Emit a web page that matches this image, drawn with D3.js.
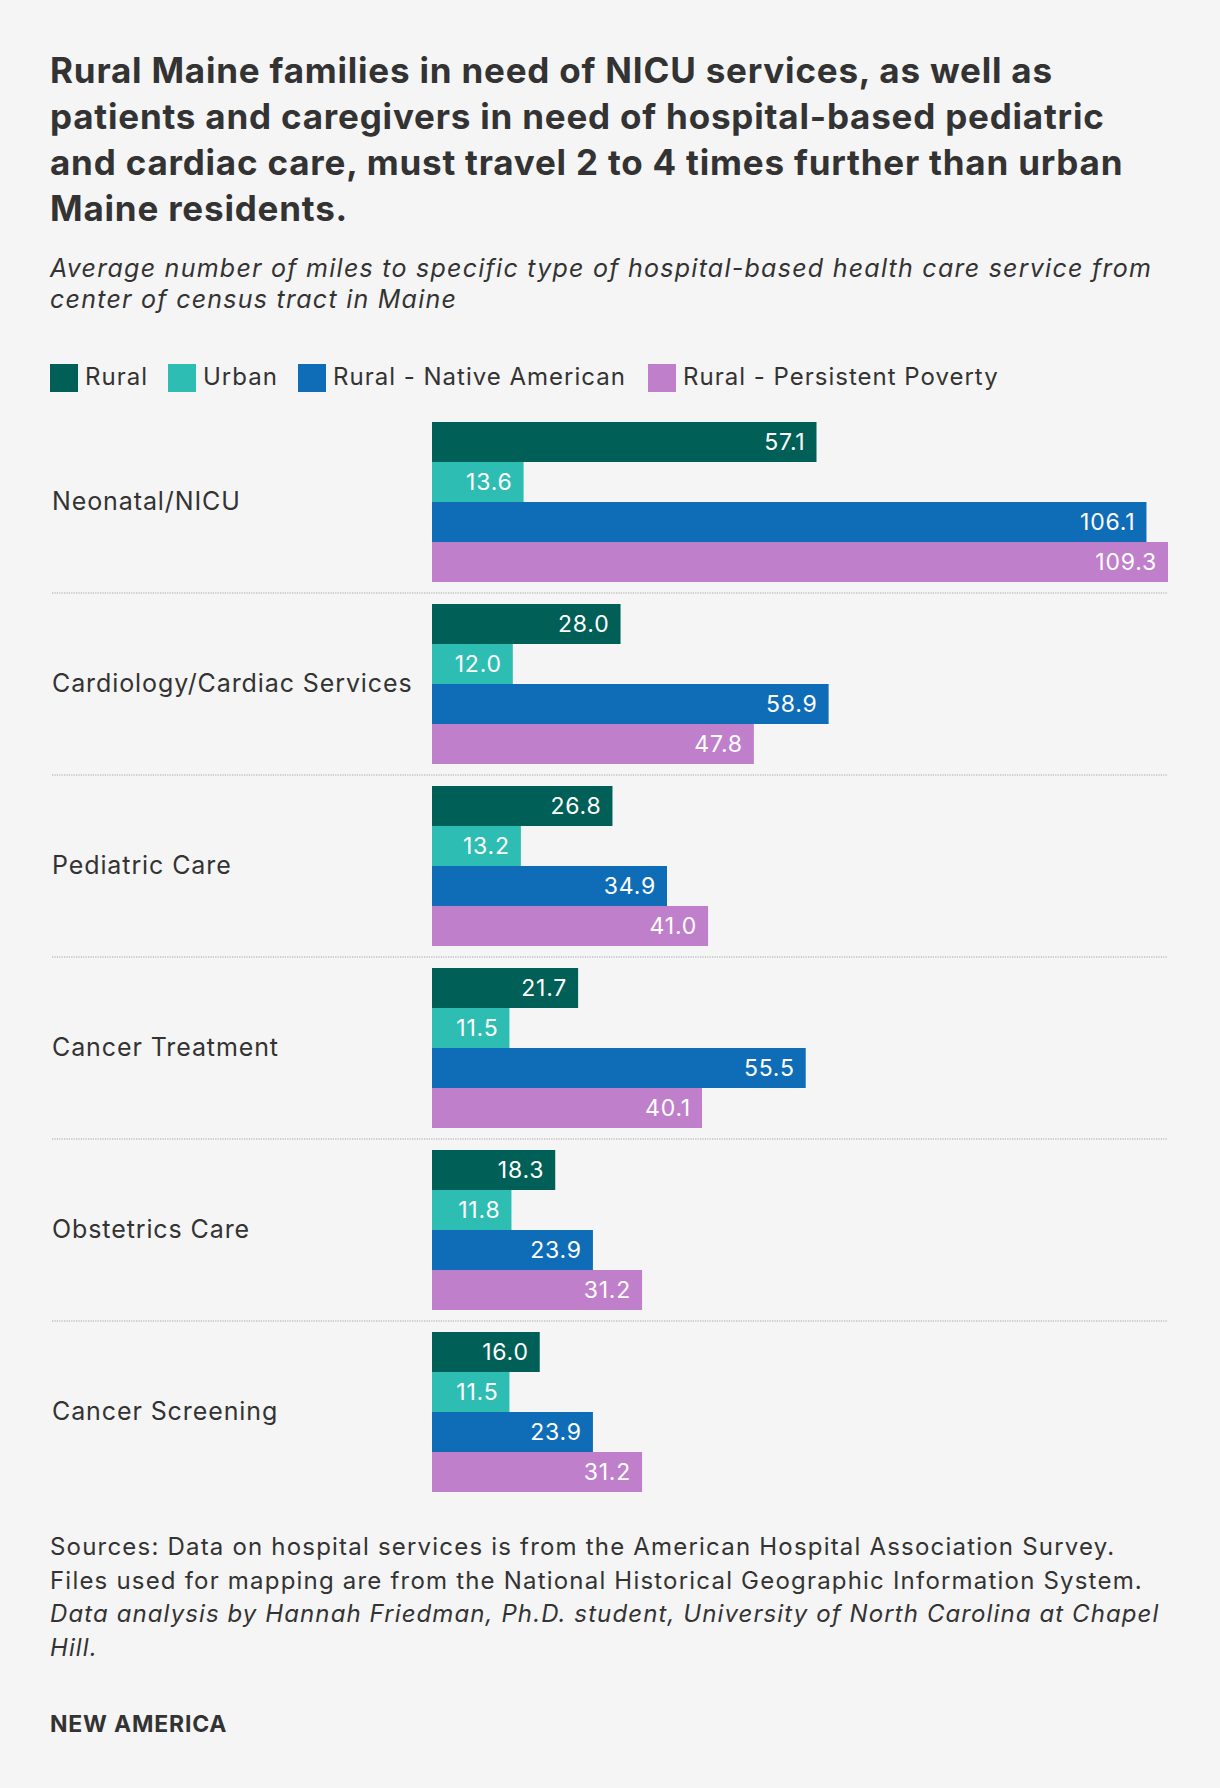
<!DOCTYPE html>
<html>
<head>
<meta charset="utf-8">
<script src="https://cdn.jsdelivr.net/npm/d3@7"></script>
<style>
  body { margin: 0; background: #f5f5f5; }
  svg { display: block; font-family: Inter, "Noto Sans", sans-serif; }
</style>
</head>
<body>
<svg id="chart" width="1220" height="1788"></svg>
<script>
var categories = ["Neonatal/NICU", "Cardiology/Cardiac Services", "Pediatric Care", "Cancer Treatment", "Obstetrics Care", "Cancer Screening"];
var seriesNames = ["Rural", "Urban", "Rural - Native American", "Rural - Persistent Poverty"];
var rural = [57.1, 28.0, 26.8, 21.7, 18.3, 16.0];
var urban = [13.6, 12.0, 13.2, 11.5, 11.8, 11.5];
var nativeAmerican = [106.1, 58.9, 34.9, 55.5, 23.9, 23.9];
var persistentPoverty = [109.3, 47.8, 41.0, 40.1, 31.2, 31.2];
var colors = ["#005f56", "#2ebdb3", "#0f6db8", "#bf7fcb"];

var titleLines = [
  "Rural Maine families in need of NICU services, as well as",
  "patients and caregivers in need of hospital-based pediatric",
  "and cardiac care, must travel 2 to 4 times further than urban",
  "Maine residents."
];
var subtitleLines = [
  "Average number of miles to specific type of hospital-based health care service from",
  "center of census tract in Maine"
];
var sourceLines = [
  "Sources: Data on hospital services is from the American Hospital Association Survey.",
  "Files used for mapping are from the National Historical Geographic Information System."
];
var creditLines = [
  "Data analysis by Hannah Friedman, Ph.D. student, University of North Carolina at Chapel",
  "Hill."
];

var allSeries = [rural, urban, nativeAmerican, persistentPoverty];
var rows = categories.map(function(c, i) {
  return { cat: c, vals: allSeries.map(function(s, j) { return { key: seriesNames[j], v: s[i], color: colors[j] }; }) };
});

var svg = d3.select("#chart");
var ink = "#333333";

// title
svg.append("g").selectAll("text")
  .data(titleLines).enter().append("text")
  .attr("x", 50).attr("y", function(d, i) { return 83 + i * 46; })
  .attr("font-size", 35).attr("font-weight", 700).attr("fill", ink)
  .attr("letter-spacing", 0.8)
  .text(function(d) { return d; });

svg.append("g").selectAll("text")
  .data(subtitleLines).enter().append("text")
  .attr("x", 50).attr("y", function(d, i) { return 277 + i * 31; })
  .attr("font-size", 25).attr("font-style", "italic").attr("fill", ink)
  .attr("letter-spacing", 1.25)
  .text(function(d) { return d; });

// legend
var legendX = [50, 168, 298, 648];
var lg = svg.append("g").selectAll("g")
  .data(seriesNames).enter().append("g")
  .attr("transform", function(d, i) { return "translate(" + legendX[i] + ",364)"; });
lg.append("rect").attr("width", 28).attr("height", 28)
  .attr("fill", function(d, i) { return colors[i]; });
lg.append("text").attr("x", 35).attr("y", 21)
  .attr("font-size", 24).attr("fill", ink)
  .attr("letter-spacing", 1.0)
  .text(function(d) { return d; });

// scales
var x = d3.scaleLinear().domain([0, 109.3]).range([432, 1168]);
var y = d3.scaleBand().domain(categories).range([422, 1492]).paddingInner(22 / 182).paddingOuter(0);
var yIn = d3.scaleBand().domain(seriesNames).range([0, y.bandwidth()]);

// dividers
svg.append("g").selectAll("line")
  .data(categories.slice(1)).enter().append("line")
  .attr("x1", 52).attr("x2", 1168)
  .attr("y1", function(d) { return y(d) - 11; })
  .attr("y2", function(d) { return y(d) - 11; })
  .attr("stroke", "#cccccc").attr("stroke-width", 2)
  .attr("stroke-dasharray", "1.2,1.2");

var grp = svg.append("g").selectAll("g")
  .data(rows).enter().append("g")
  .attr("transform", function(d) { return "translate(0," + y(d.cat) + ")"; });

grp.append("text")
  .attr("x", 52).attr("y", y.bandwidth() / 2 + 8)
  .attr("font-size", 25).attr("fill", ink)
  .attr("letter-spacing", 0.9)
  .text(function(d) { return d.cat; });

grp.selectAll("rect")
  .data(function(d) { return d.vals; }).enter().append("rect")
  .attr("x", x(0))
  .attr("y", function(d) { return yIn(d.key); })
  .attr("width", function(d) { return x(d.v) - x(0); })
  .attr("height", yIn.bandwidth())
  .attr("fill", function(d) { return d.color; });

grp.selectAll("text.val")
  .data(function(d) { return d.vals; }).enter().append("text")
  .attr("class", "val")
  .attr("x", function(d) { return x(d.v) - 11; })
  .attr("y", function(d) { return yIn(d.key) + yIn.bandwidth() / 2 + 8; })
  .attr("text-anchor", "end")
  .attr("font-size", 23).attr("fill", "#ffffff")
  .attr("letter-spacing", 0.8)
  .text(function(d) { return d.v.toFixed(1); });

// footer
svg.append("g").selectAll("text")
  .data(sourceLines).enter().append("text")
  .attr("x", 50).attr("y", function(d, i) { return 1555 + i * 34; })
  .attr("font-size", 24).attr("fill", ink)
  .attr("letter-spacing", 1.2)
  .text(function(d) { return d; });

svg.append("g").selectAll("text")
  .data(creditLines).enter().append("text")
  .attr("x", 50).attr("y", function(d, i) { return 1622 + i * 34; })
  .attr("font-size", 24).attr("font-style", "italic").attr("fill", ink)
  .attr("letter-spacing", 1.1)
  .text(function(d) { return d; });

svg.append("text")
  .attr("x", 50).attr("y", 1732)
  .attr("font-size", 23).attr("font-weight", 700).attr("fill", ink)
  .attr("letter-spacing", 0.8)
  .text("NEW AMERICA");
</script>
</body>
</html>
